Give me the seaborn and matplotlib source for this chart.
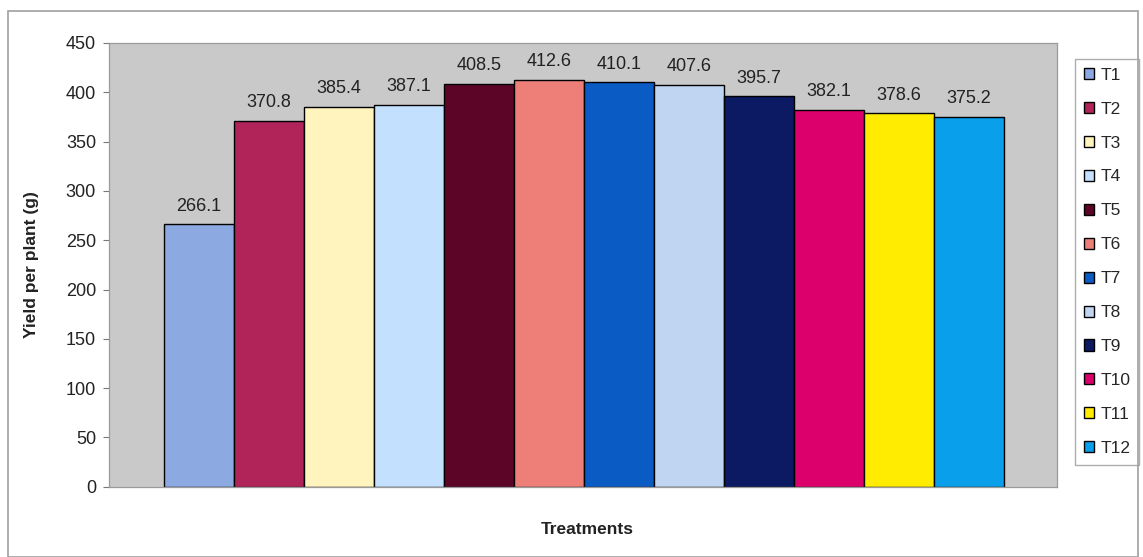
import pandas as pd
import seaborn as sns
import matplotlib.pyplot as plt
from matplotlib.patches import Rectangle

# Values
treatments = ["T1", "T2", "T3", "T4", "T5", "T6", "T7", "T8", "T9", "T10", "T11", "T12"]
yields = [266.1, 370.8, 385.4, 387.1, 408.5, 412.6, 410.1, 407.6, 395.7, 382.1, 378.6, 375.2]
bar_colors = ["#8CA9E2", "#B0245A", "#FFF3BE", "#C4E0FF", "#5C0527", "#EE7F78",
              "#0A5BC4", "#C0D5F2", "#0B1A63", "#DB006C", "#FFEC00", "#0A9FEA"]
y_ticks = [0, 50, 100, 150, 200, 250, 300, 350, 400, 450]

if __name__ == "__main__":
    df = pd.DataFrame({"Treatment": treatments, "Yield": yields})

    sns.set_theme(style="white")
    plt.rcParams["font.family"] = ["Liberation Sans", "DejaVu Sans"]

    fig = plt.figure(figsize=(11.43, 5.57), dpi=100)
    ax = fig.add_axes([0.095, 0.126, 0.83, 0.797])

    sns.barplot(data=df, x="Treatment", y="Yield", hue="Treatment",
                palette=dict(zip(treatments, bar_colors)), width=1.0, dodge=False,
                saturation=1, edgecolor="black", linewidth=1.0, legend=True, ax=ax)

    # value labels on top of bars
    for c in ax.containers:
        ax.bar_label(c, fmt="%.1f", padding=7, fontsize=13, color="#222222")

    ax.set_facecolor("#C9C9C9")
    ax.set_xlim(-1.29, 12.26)
    ax.set_ylim(0, 450)
    ax.set_yticks(y_ticks)
    ax.set_xticks([])
    ax.tick_params(axis="y", left=True, length=4, width=0.8, color="#777777",
                   labelsize=13, labelcolor="#222222", pad=5)
    for s in ax.spines.values():
        s.set_color("#9A9A9A")
        s.set_linewidth(0.9)

    ax.set_ylabel("Yield per plant (g)", fontsize=12.5, fontweight="bold", color="#222222")
    ax.yaxis.set_label_coords(-0.073, 0.5)
    ax.set_xlabel("Treatments", fontsize=12.5, fontweight="bold", color="#222222")
    ax.xaxis.set_label_coords(0.505, -0.08)

    handles, labels = ax.get_legend_handles_labels()
    ax.legend(handles, labels, loc="upper left", bbox_to_anchor=(0.9405, 0.894),
              bbox_transform=fig.transFigure, frameon=True, fancybox=False,
              edgecolor="#999999", fontsize=12.5, handlelength=0.6, handleheight=0.6,
              handletextpad=0.35, labelspacing=1.09, borderpad=0.5, borderaxespad=0)

    # outer chart border
    fig.patches.append(Rectangle((0.007, 0.0), 0.989, 0.98, transform=fig.transFigure,
                                 fill=False, edgecolor="#A0A0A0", linewidth=1.2))

    plt.savefig("out.png", dpi=100)
